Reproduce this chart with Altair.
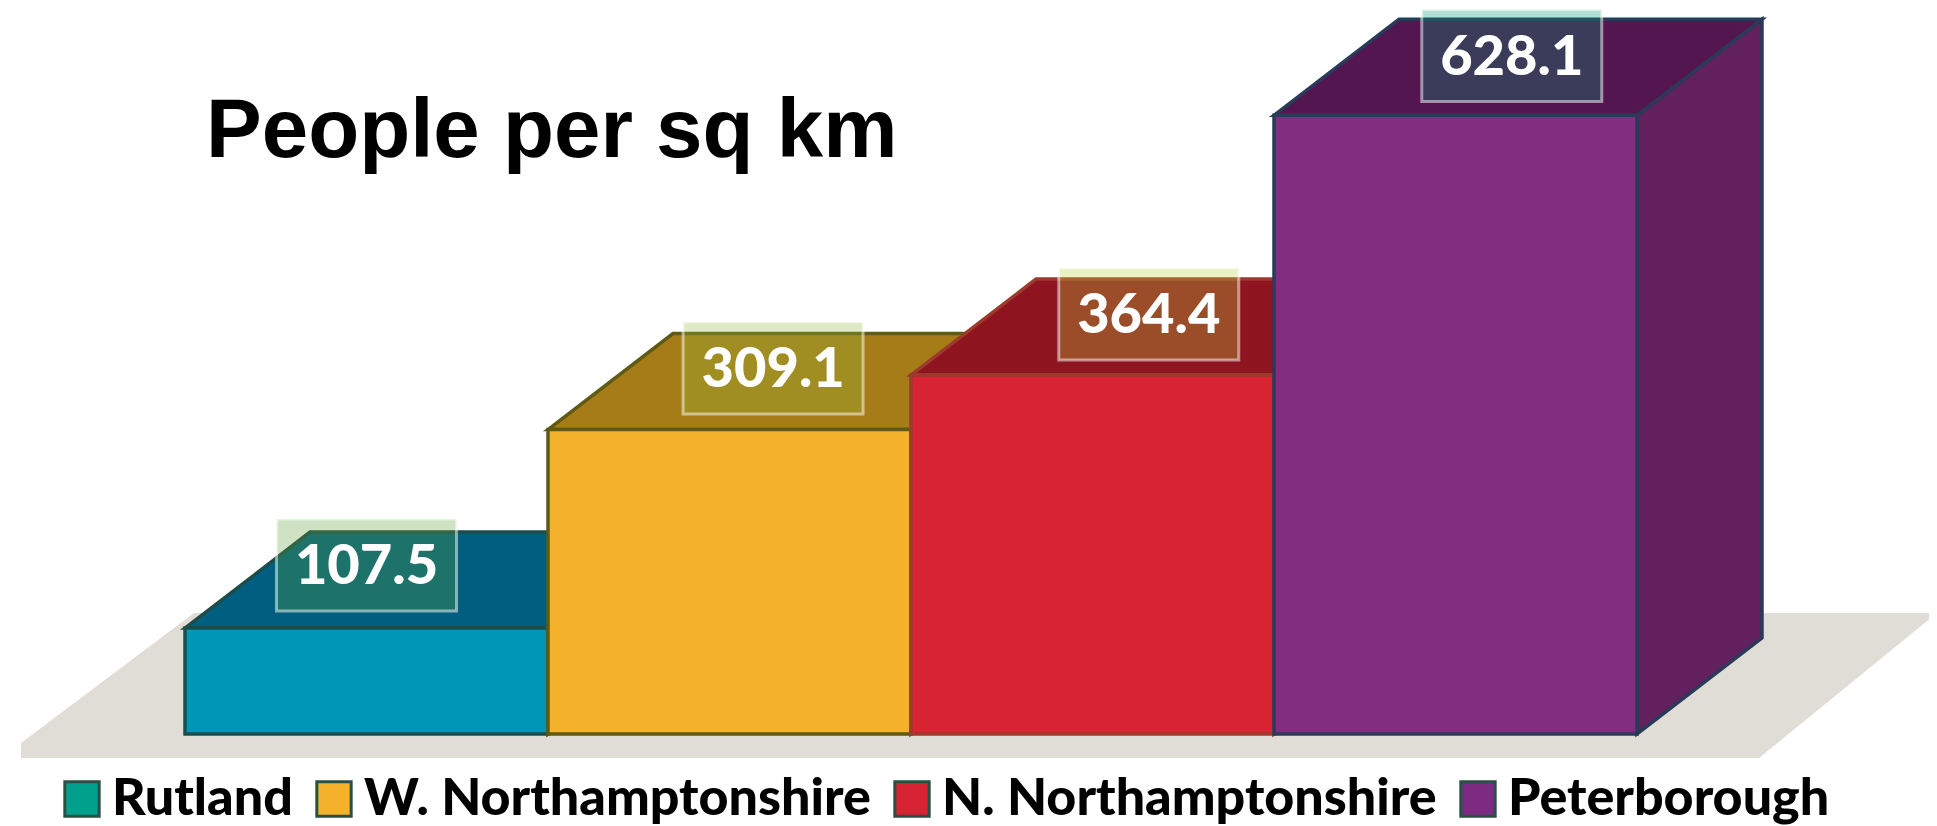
import altair as alt
import pandas as pd

categories = ["Rutland", "W. Northamptonshire", "N. Northamptonshire", "Peterborough"]
values = [107.5, 309.1, 364.4, 628.1]
front_colors = ["#0096b8", "#f4b12b", "#d82333", "#822d7f"]
top_colors = ["#005f80", "#a67c18", "#8e1420", "#541650"]
side_colors = ["#004f6c", "#8a6614", "#7a101c", "#63205f"]
edge_colors = ["#1d4d4a", "#5f5a14", "#9c3a2c", "#2a3a58"]
legend_colors = ["#00a08c", "#f4b12b", "#d82333", "#7d2a82"]
label_colors = ["#60a037", "#96bb3f", "#bbd23c", "#009673"]
label_offsets = [0.50, 0.62, 0.655, 0.655]

# Layout in data units: one bar is 1 wide; depth is shared by all bars.
BAR_W_PX = 363.0
PX_PER_UNIT = 0.985
X0_PX, BASE_PX = 185.0, 734.0
DX = 125 / BAR_W_PX
DY = 96 / PX_PER_UNIT
W, H = 1921, 818


def ux(px):
    return (px - X0_PX) / BAR_W_PX


def uy(px):
    return (BASE_PX - px) / PX_PER_UNIT


x_scale = alt.Scale(domain=[ux(8), ux(8 + W)], nice=False, zero=False)
y_scale = alt.Scale(domain=[uy(8 + H), uy(8)], nice=False, zero=False)
X = alt.X("x:Q", scale=x_scale, axis=None)
Y = alt.Y("y:Q", scale=y_scale, axis=None)

bars = pd.DataFrame({
    "cat": categories, "v": values, "left": range(4),
    "right": [i + 1 for i in range(4)], "zero": [0] * 4,
    "front": front_colors, "edge": edge_colors,
})
bars["labx"] = [i + o for i, o in enumerate(label_offsets)]
bars["labc"] = label_colors
bars["box0"] = bars["labx"] - 90 / BAR_W_PX
bars["box1"] = bars["labx"] + 90 / BAR_W_PX
bars["laby"] = [uy(565), uy(368), uy(314), uy(55.5)]
bars["boxt"] = bars["laby"] + 46 / PX_PER_UNIT
bars["boxb"] = bars["laby"] - 46 / PX_PER_UNIT

top_rows, side_rows = [], []
for i, v in enumerate(values):
    c, e = top_colors[i], edge_colors[i]
    for x, y, y2 in [(i, v, v), (i + DX, v + DY, v), (i + 1, v + DY, v), (i + 1 + DX, v + DY, v + DY)]:
        top_rows.append(dict(cat=categories[i], x=x, y=y, y2=y2, fill=c, edge=e))
    s = side_colors[i]
    for x, y, y2 in [(i + 1, v, 0), (i + 1 + DX, v + DY, DY)]:
        side_rows.append(dict(cat=categories[i], x=x, y=y, y2=y2, fill=s, edge=e))

floor_rows = [
    dict(x=ux(21), y=uy(743), y2=uy(758)),
    dict(x=ux(194), y=uy(613), y2=uy(758)),
    dict(x=ux(1759), y=uy(613), y2=uy(758)),
    dict(x=ux(1937), y=uy(613), y2=uy(613)),
]

floor = alt.Chart(pd.DataFrame(floor_rows)).mark_area(color="#e0ddd6").encode(x=X, y=Y, y2="y2:Q")


def faces(rows, width):
    return alt.Chart(pd.DataFrame(rows)).mark_area(strokeWidth=width, strokeJoin="miter").encode(
        x=X, y=Y, y2="y2:Q",
        detail="cat:N",
        fill=alt.Fill("fill:N", scale=None),
        stroke=alt.Stroke("edge:N", scale=None),
    )


sides = faces(side_rows, 3.5)
tops = faces(top_rows, 3.5)

fronts = alt.Chart(bars).mark_rect(strokeWidth=3.5).encode(
    x=alt.X("left:Q", scale=x_scale, axis=None), x2="right:Q",
    y=alt.Y("v:Q", scale=y_scale, axis=None), y2="zero:Q",
    fill=alt.Fill("front:N", scale=None),
    stroke=alt.Stroke("edge:N", scale=None),
)

boxes = alt.Chart(bars).mark_rect(fillOpacity=0.3, stroke="#ffffff", strokeOpacity=0.5, strokeWidth=3).encode(
    x=alt.X("box0:Q", scale=x_scale, axis=None), x2="box1:Q",
    y=alt.Y("boxt:Q", scale=y_scale, axis=None), y2="boxb:Q",
    fill=alt.Fill("labc:N", scale=None),
)

labels = alt.Chart(bars).mark_text(
    font="Lato", fontWeight=900, fontSize=56, color="white", baseline="middle", align="center", dy=2
).encode(
    x=alt.X("labx:Q", scale=x_scale, axis=None),
    y=alt.Y("laby:Q", scale=y_scale, axis=None),
    text=alt.Text("v:Q", format=".1f"),
)

legend_layer = alt.Chart(bars).mark_square(size=0).encode(
    color=alt.Color(
        "cat:N",
        scale=alt.Scale(domain=categories, range=legend_colors),
        legend=alt.Legend(
            title=None, orient="none", legendX=48, legendY=765,
            direction="horizontal", columns=4, gridAlign="none", columnPadding=15,
            symbolType="square", symbolSize=1180, symbolOpacity=1,
            symbolStrokeColor="#2a4f45", symbolStrokeWidth=3,
            labelFont="Lato", labelFontWeight=900, labelFontSize=52, labelColor="black",
            labelLimit=800, labelOffset=4,
        ),
    )
)

chart = alt.layer(floor, sides, tops, fronts, boxes, labels, legend_layer).properties(
    width=W, height=H,
    padding=0,
    autosize=alt.AutoSizeParams(type="none"),
    background="white",
    title=alt.TitleParams(
        "People per sq km", anchor="start", font="Liberation Sans", fontWeight="bold",
        fontSize=83.5, color="black", dx=198, dy=232, offset=0, baseline="alphabetic", frame="group",
    ),
).configure_view(stroke=None)

chart.save("out.html", embed_options={"renderer": "svg", "actions": False})
